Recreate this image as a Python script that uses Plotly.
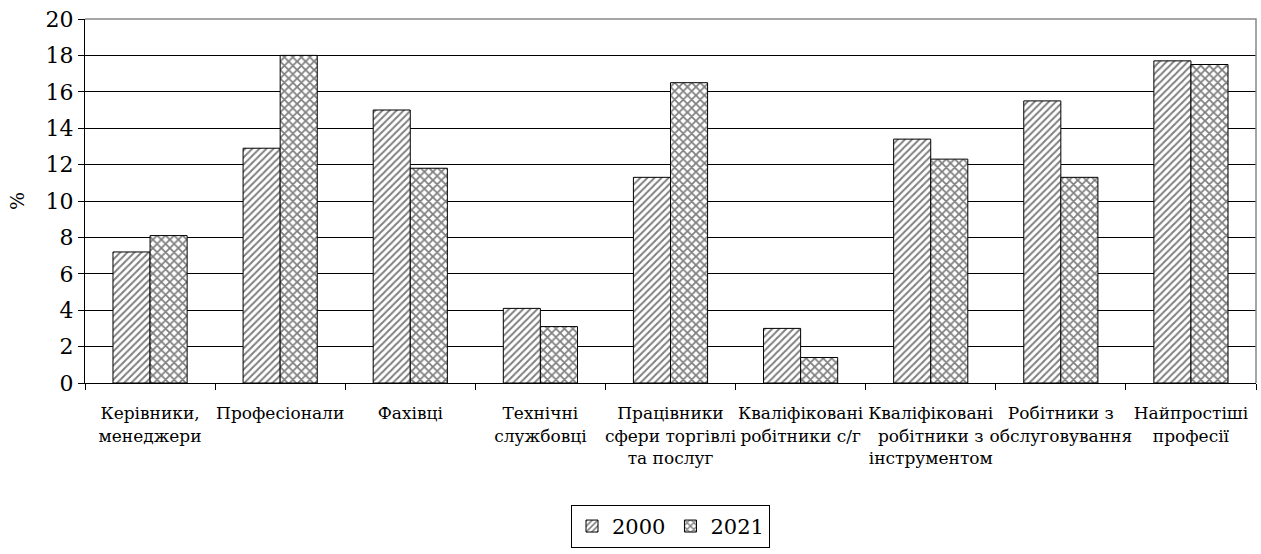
import plotly.graph_objects as go

categories = [
    "Керівники,<br>менеджери",
    "Професіонали",
    "Фахівці",
    "Технічні<br>службовці",
    "Працівники<br>сфери торгівлі<br>та послуг",
    "Кваліфіковані<br>робітники с/г",
    "Кваліфіковані<br>робітники з<br>інструментом",
    "Робітники з<br>обслуговування",
    "Найпростіші<br>професії",
]
values_2000 = [7.2, 12.9, 15.0, 4.1, 11.3, 3.0, 13.4, 15.5, 17.7]
values_2021 = [8.1, 18.0, 11.8, 3.1, 16.5, 1.4, 12.3, 11.3, 17.5]
y_ticks = list(range(0, 21, 2))

FONT = "DejaVu Serif"

fig = go.Figure()
fig.add_trace(go.Bar(
    x=categories, y=values_2000, name="2000",
    marker=dict(color="white", line=dict(color="black", width=1),
                pattern=dict(shape="/", fgcolor="black", bgcolor="white", size=5, solidity=0.4)),
))
fig.add_trace(go.Bar(
    x=categories, y=values_2021, name="2021",
    marker=dict(color="white", line=dict(color="black", width=1),
                pattern=dict(shape="x", fgcolor="black", bgcolor="white", size=6, solidity=0.5)),
))

fig.update_layout(
    width=1261, height=554,
    margin=dict(l=85, r=5, t=19, b=171),
    paper_bgcolor="white", plot_bgcolor="white",
    barmode="group", bargap=0.43, bargroupgap=0,
    font=dict(family=FONT, color="black"),
    showlegend=True,
    legend=dict(orientation="h", x=0.5, xanchor="center", y=-0.453, yanchor="bottom",
                bordercolor="black", borderwidth=1, font=dict(size=21, family=FONT),
                itemwidth=30, tracegroupgap=0),
    xaxis=dict(showline=True, linecolor="black", linewidth=1, ticks="outside",
               tickson="boundaries", ticklen=6, tickcolor="black", automargin=False,
               tickangle=0, ticklabelstandoff=15,
               tickfont=dict(size=17, family=FONT), showgrid=False),
    yaxis=dict(range=[0, 20], tickvals=y_ticks, showline=True, linecolor="black",
               linewidth=1, ticks="outside", ticklen=6, tickcolor="black", automargin=False,
               showgrid=True, gridcolor="black", gridwidth=1,
               tickfont=dict(size=22, family=FONT),
               title=dict(text="%", font=dict(size=19, family=FONT))),
    shapes=[dict(type="path", xref="paper", yref="paper", path="M 0 1 L 1 1 L 1 0",
                 line=dict(color="#888888", width=1.5), layer="above")],
)

fig.write_html("out.html", config={"displayModeBar": False},
               post_script="document.body.style.margin='0';document.body.style.overflow='hidden';")
